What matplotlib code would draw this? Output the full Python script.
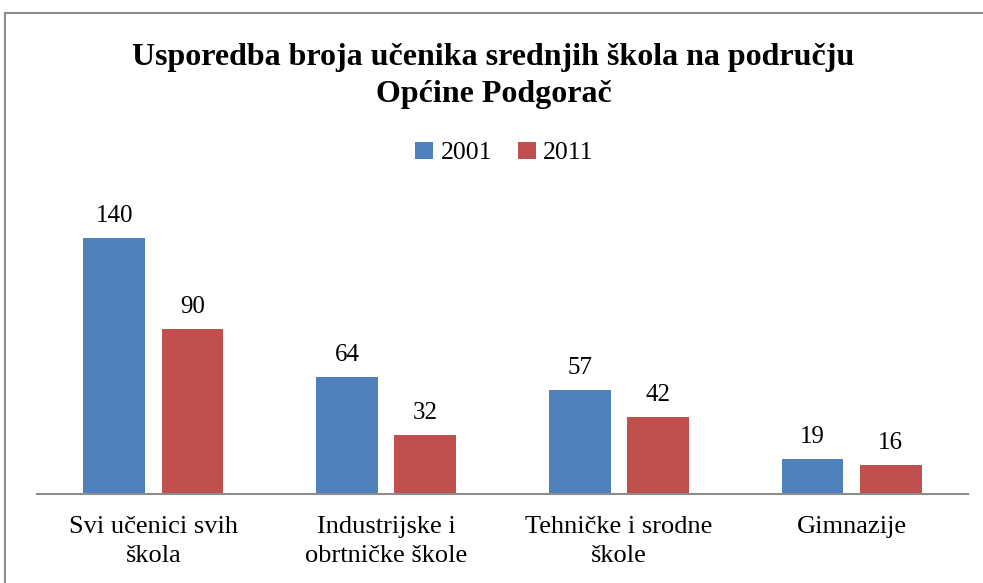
import matplotlib.pyplot as plt
import numpy as np
from matplotlib.lines import Line2D

# -----------------------------
# Data
# -----------------------------

categories = ["Svi učenici svih\nškola", "Industrijske i\nobrtničke škole",
              "Tehničke i srodne\nškole", "Gimnazije"]
years = ["2001", "2011"]
values_2001 = [140, 64, 57, 19]
values_2011 = [90, 32, 42, 16]

BLUE = "#4F81BD"
RED = "#C0504D"

plt.rcParams["font.family"] = ["Liberation Serif", "DejaVu Serif"]

fig = plt.figure(figsize=(9.83, 5.83), dpi=100)
ax = fig.add_axes([37 / 983, 89 / 583, 931 / 983, 304 / 583])

x = np.arange(len(categories))
width = 0.266
offset = 0.168

bars1 = ax.bar(x - offset, values_2001, width, color=BLUE, label=years[0])
bars2 = ax.bar(x + offset, values_2011, width, color=RED, label=years[1])

for bars in (bars1, bars2):
    for b in bars:
        ax.annotate(f"{b.get_height():g}", (b.get_x() + b.get_width() / 2, b.get_height()),
                    xytext=(0, 8), textcoords="offset points", ha="center", va="bottom",
                    fontsize=18)

ax.set_xlim(-0.5, len(categories) - 0.5)
ax.set_ylim(0, 166)
ax.set_xticks(x)
ax.set_xticklabels(categories, fontsize=19, linespacing=1.42)
ax.tick_params(axis="x", length=0, pad=16)
ax.set_yticks([])
for side in ("top", "right", "left"):
    ax.spines[side].set_visible(False)
ax.spines["bottom"].set_color("#8c8c8c")
ax.spines["bottom"].set_linewidth(1.5)

fig.text(0.502, 1 - 76 / 583, "Usporedba broja učenika srednjih škola na području\nOpćine Podgorač",
         ha="center", va="center", fontsize=23, fontweight="bold", linespacing=1.34)

fig.legend(handles=[bars1, bars2], labels=years, loc="center", bbox_to_anchor=(0.513, 1 - 153 / 583),
           ncol=2, frameon=False, fontsize=18.5, handlelength=0.7, handleheight=0.7,
           handletextpad=0.3, columnspacing=1.0)

# outer chart border (left and top edges visible)
fig.add_artist(Line2D([4.5 / 983, 4.5 / 983], [0, 1 - 13 / 583], transform=fig.transFigure,
                      color="#8c8c8c", lw=1.5))
fig.add_artist(Line2D([4.5 / 983, 1], [1 - 13 / 583, 1 - 13 / 583], transform=fig.transFigure,
                      color="#8c8c8c", lw=1.5))

fig.savefig("out.png", dpi=100)
